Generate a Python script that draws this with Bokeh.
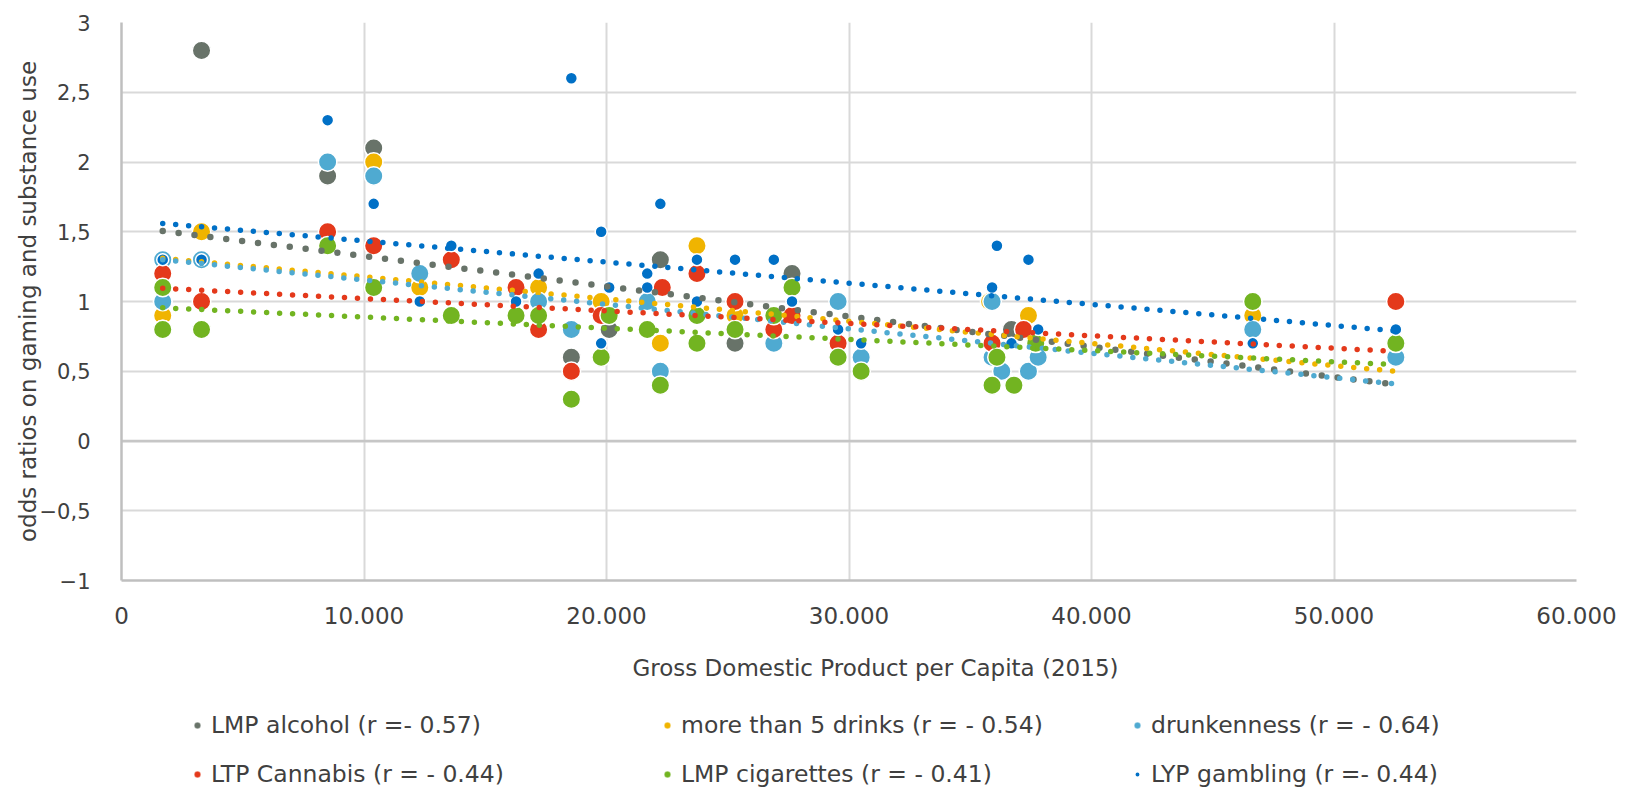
from bokeh.plotting import figure
from bokeh.layouts import column
from bokeh.models import ColumnDataSource, Legend, LegendItem, Span, Label
from bokeh.embed import file_html
from bokeh.resources import INLINE

FONT = "DejaVu Sans"
TEXT = "#404040"

# ---- axis ticks -------------------------------------------------------------
x_ticks = [0, 10000, 20000, 30000, 40000, 50000, 60000]
x_tick_labels = ["0", "10.000", "20.000", "30.000", "40.000", "50.000", "60.000"]
y_ticks = [-1, -0.5, 0, 0.5, 1, 1.5, 2, 2.5, 3]
y_tick_labels = ["\u22121", "\u22120,5", "0", "0,5", "1", "1,5", "2", "2,5", "3"]

x_title = "Gross Domestic Product per Capita (2015)"
y_title = "odds ratios on gaming and substance use"

# ---- series (GDP per capita, odds ratio) ------------------------------------
alcohol_x = [1700, 3300, 8500, 10400, 18550, 20110, 22220, 25300, 27650, 36700]
alcohol_y = [1.0, 2.8, 1.9, 2.1, 0.6, 0.8, 1.3, 0.7, 1.2, 0.8]

drinks_x = [1700, 3300, 10400, 12300, 17200, 19780, 22220, 23730, 25300, 35800, 37400, 46650]
drinks_y = [0.9, 1.5, 2.0, 1.1, 1.1, 1.0, 0.7, 1.4, 0.9, 1.0, 0.9, 0.9]

drunk_x = [1700, 1700, 3300, 8500, 10400, 12300, 17200, 18550, 21680, 22220, 26900,
           29550, 30500, 35900, 35900, 36300, 37400, 37800, 46650, 52550]
drunk_y = [1.3, 1.0, 1.3, 2.0, 1.9, 1.2, 1.0, 0.8, 1.0, 0.5, 0.7,
           1.0, 0.6, 1.0, 0.6, 0.5, 0.5, 0.6, 0.8, 0.6]

cannabis_x = [1700, 1700, 3300, 8500, 10400, 13600, 16270, 17200, 18550, 19780, 21680,
              22300, 23730, 25300, 26900, 27650, 29550, 35900, 37200, 52550]
cannabis_y = [1.2, 0.8, 1.0, 1.5, 1.4, 1.3, 1.1, 0.8, 0.5, 0.9, 0.8,
              1.1, 1.2, 1.0, 0.8, 0.9, 0.7, 0.7, 0.8, 1.0]

cig_x = [1700, 1700, 3300, 8500, 10400, 13600, 16270, 17200, 18550, 19780, 20110, 21680,
         22220, 23730, 23730, 25300, 26900, 27650, 29550, 30500, 35900, 36100, 36800,
         37700, 46650, 52550]
cig_y = [1.1, 0.8, 0.8, 1.4, 1.1, 0.9, 0.9, 0.9, 0.3, 0.6, 0.9, 0.8,
         0.4, 0.9, 0.7, 0.8, 0.9, 1.1, 0.6, 0.5, 0.4, 0.6, 0.4,
         0.7, 1.0, 0.7]

gambling_x = [1700, 3300, 8500, 10400, 12300, 13600, 16270, 17200, 18550, 19780, 19780,
              20110, 21680, 21680, 22220, 23730, 23730, 25300, 26900, 27650, 29550,
              30500, 35900, 36100, 37400, 36700, 37800, 46650, 52550]
gambling_y = [1.3, 1.3, 2.3, 1.7, 1.0, 1.4, 1.0, 1.2, 2.6, 1.5, 0.7,
              1.1, 1.2, 1.1, 1.7, 1.3, 1.0, 1.3, 1.3, 1.0, 0.8,
              0.7, 1.1, 1.4, 1.3, 0.7, 0.8, 0.7, 0.8]

series_names = [
    "LMP alcohol (r =- 0.57)",
    "more than 5 drinks (r = - 0.54)",
    "drunkenness (r = - 0.64)",
    "LTP Cannabis (r = - 0.44)",
    "LMP cigarettes (r = - 0.41)",
    "LYP gambling (r =- 0.44)",
]
series_colors = ["#687369", "#F0B400", "#4FAAD1", "#E4391B", "#72B421", "#0070C6"]
series_x = [alcohol_x, drinks_x, drunk_x, cannabis_x, cig_x, gambling_x]
series_y = [alcohol_y, drinks_y, drunk_y, cannabis_y, cig_y, gambling_y]

# linear trend lines: value at first and last GDP
trend_x = [1700, 52500]
trend_start = [1.505, 1.31, 1.30, 1.095, 0.955, 1.56]
trend_end = [0.405, 0.50, 0.41, 0.643, 0.548, 0.79]

# ---- main chart -------------------------------------------------------------
p = figure(width=1628, height=640, x_range=(0, 60000), y_range=(-1, 3),
           output_backend="svg", toolbar_location=None,
           min_border_left=121, min_border_right=52, min_border_top=22,
           min_border_bottom=60)
p.outline_line_color = None
p.background_fill_color = "white"
p.border_fill_color = "white"

for ax, ticks, labels in ((p.xaxis[0], x_ticks, x_tick_labels), (p.yaxis[0], y_ticks, y_tick_labels)):
    ax.ticker = ticks
    ax.major_label_overrides = dict(zip(ticks, labels))
    ax.major_tick_line_color = None
    ax.minor_tick_line_color = None
    ax.major_tick_out = 0
    ax.major_tick_in = 0
    ax.minor_tick_out = 0
    ax.axis_line_color = "#bfbfbf"
    ax.axis_line_width = 2.5
    ax.major_label_text_font = FONT
    ax.major_label_text_color = TEXT
p.xaxis.major_label_text_font_size = "23px"
p.yaxis.major_label_text_font_size = "21px"
p.yaxis.major_label_standoff = 31
p.xaxis.major_label_standoff = 26

p.yaxis.axis_label = y_title
p.yaxis.axis_label_text_font = FONT
p.yaxis.axis_label_text_font_size = "23px"
p.yaxis.axis_label_text_font_style = "normal"
p.yaxis.axis_label_text_color = TEXT
p.yaxis.axis_label_standoff = -4

for g in (p.xgrid[0], p.ygrid[0]):
    g.grid_line_color = "#d9d9d9"
    g.grid_line_width = 2

p.add_layout(Span(location=0, dimension="width", line_color="#c6c6c6",
                  line_width=2.5, level="underlay"))

for i in range(6):
    src = ColumnDataSource(dict(x=series_x[i], y=series_y[i]))
    small = (i == 5)
    p.scatter("x", "y", source=src, size=12 if small else 18.5,
              fill_color=series_colors[i], line_color="white", line_width=1.5)

for i in range(6):
    tsrc = ColumnDataSource(dict(x=trend_x, y=[trend_start[i], trend_end[i]]))
    gray = (i == 0)
    p.line("x", "y", source=tsrc, line_color=series_colors[i],
           line_width=6.5 if gray else 5.5, line_dash="0 16" if gray else "0 13",
           line_cap="round")

# ---- x title + legend strip -------------------------------------------------
q = figure(width=1628, height=148, x_range=(0, 1), y_range=(0, 1),
           output_backend="svg", toolbar_location=None,
           x_axis_location=None, y_axis_location=None,
           min_border_left=0, min_border_right=0, min_border_top=0, min_border_bottom=0)
q.outline_line_color = None
q.xgrid.visible = False
q.ygrid.visible = False
q.background_fill_color = "white"
q.border_fill_color = "white"

q.add_layout(Label(x=0.5182, y=0.812, text=x_title, text_align="center",
                   text_baseline="middle", text_font=FONT, text_font_size="23px",
                   text_color=TEXT))

# legend swatches: one off-range point per series so that the legend can draw them
items = []
for i in range(6):
    small = (i == 5)
    r = q.scatter(x=[-1], y=[-1], size=6, fill_color=series_colors[i],
                  line_color="white", line_width=2.5 if small else 0.3)
    items.append(LegendItem(label=series_names[i], renderers=[r]))

legend = Legend(items=items, location=(68, 0), orientation="horizontal", ncols=3,
                glyph_width=16, glyph_height=16, label_standoff=6, label_width=427,
                spacing=21, padding=0, margin=0, border_line_color=None,
                background_fill_alpha=0,
                label_text_font=FONT, label_text_font_size="23.5px",
                label_text_color=TEXT)
q.add_layout(legend)

layout = column(p, q, spacing=0)
open("out.html", "w").write(file_html(layout, INLINE))
